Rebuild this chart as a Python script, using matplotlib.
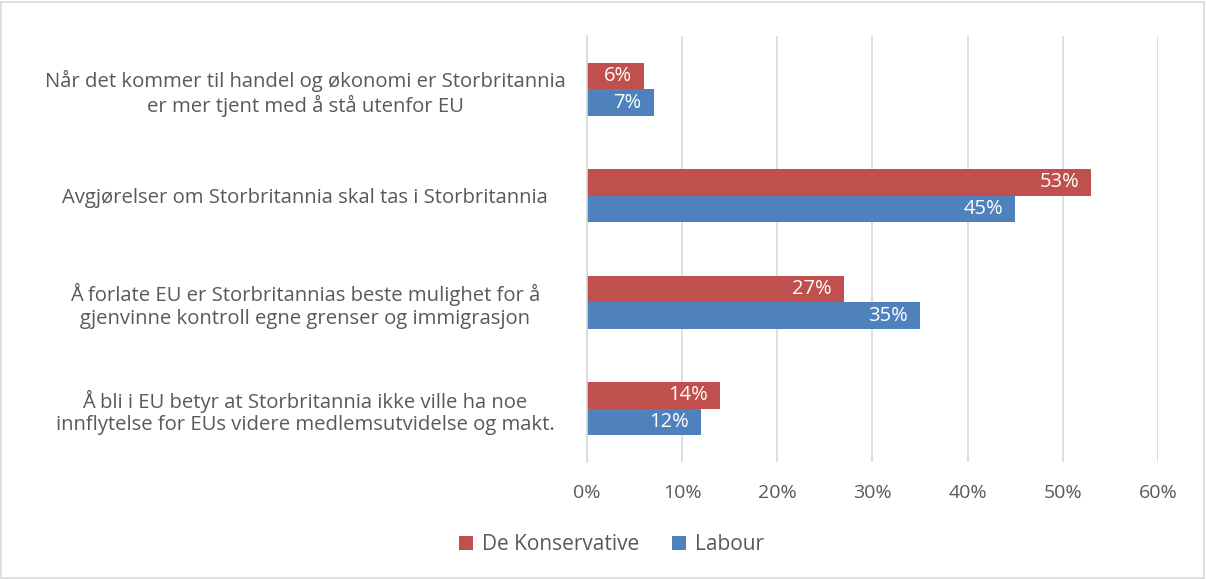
import numpy as np
import matplotlib.pyplot as plt
from matplotlib.patches import Rectangle

categories = [
    "Når det kommer til handel og økonomi er Storbritannia\ner mer tjent med å stå utenfor EU",
    "Avgjørelser om Storbritannia skal tas i Storbritannia",
    "Å forlate EU er Storbritannias beste mulighet for å\ngjenvinne kontroll egne grenser og immigrasjon",
    "Å bli i EU betyr at Storbritannia ikke ville ha noe\ninnflytelse for EUs videre medlemsutvidelse og makt.",
]
konservative = [6, 53, 27, 14]
labour = [7, 45, 35, 12]
xticks = [0, 10, 20, 30, 40, 50, 60]

red = "#C0504D"
blue = "#4F81BD"
grey = "#595959"

plt.rcParams['font.family'] = ['Open Sans', 'DejaVu Sans']

fig = plt.figure(figsize=(12.06, 5.79), dpi=100)
ax = fig.add_axes([0.4867, 0.2021, 0.4735, 0.7358])

y = np.arange(len(categories))
h = 0.25
b1 = ax.barh(y - h / 2, konservative, height=h, color=red, label="De Konservative")
b2 = ax.barh(y + h / 2, labour, height=h, color=blue, label="Labour")

for bars, vals in ((b1, konservative), (b2, labour)):
    for bar, v in zip(bars, vals):
        ax.text(bar.get_width() - 1.3, bar.get_y() + bar.get_height() / 2, f"{v}%",
                ha="right", va="center", color="white", fontsize=14.5)

ax.set_xlim(0, 60)
ax.set_ylim(len(categories) - 0.5, -0.5)
ax.set_xticks(xticks)
ax.set_xticklabels([f"{t}%" for t in xticks])
ax.set_yticks(y)
ax.set_yticklabels(categories, ha="center", linespacing=1.18)
ax.tick_params(axis="y", length=0, pad=203, labelsize=14.6, labelcolor=grey)
ax.tick_params(axis="x", length=0, pad=16, labelsize=14, labelcolor=grey)
ax.grid(axis="x", color="#D9D9D9", linewidth=1.2)
ax.set_axisbelow(True)
for s in ("top", "right", "bottom"):
    ax.spines[s].set_visible(False)
ax.spines["left"].set_color("#D9D9D9")
ax.spines["left"].set_linewidth(1.2)

fig.legend(loc="center", bbox_to_anchor=(0.507, 0.059), ncol=2, frameon=False,
           fontsize=15, labelcolor=grey, handlelength=0.67, handleheight=0.67,
           columnspacing=1.6, handletextpad=0.4)

fig.patches.append(Rectangle((0.001, 0.002), 0.997, 0.995, transform=fig.transFigure,
                             fill=False, edgecolor="#D9D9D9", linewidth=1.2))

fig.savefig("out.png", dpi=100)
